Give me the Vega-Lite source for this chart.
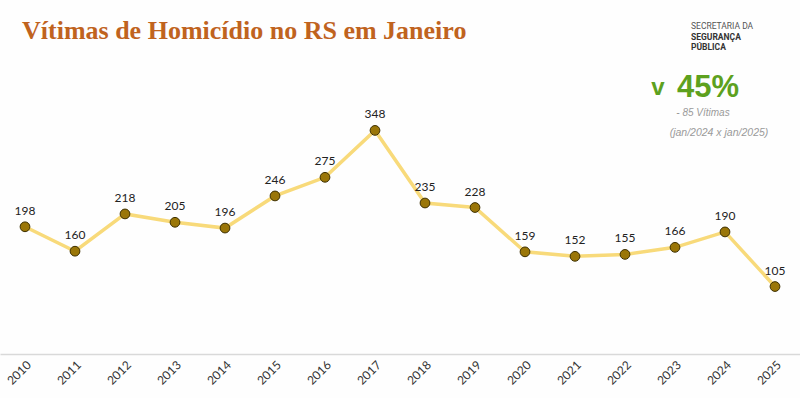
{
  "$schema": "https://vega.github.io/schema/vega-lite/v6.json",
  "width": 800,
  "height": 257,
  "autosize": {"type": "none"},
  "padding": {"left": 0, "top": 97, "right": 0, "bottom": 44},
  "background": "#fefefe",
  "config": {"view": {"stroke": null}},
  "datasets": {
    "serie": [
      {"ano": "2010", "vitimas": 198},
      {"ano": "2011", "vitimas": 160},
      {"ano": "2012", "vitimas": 218},
      {"ano": "2013", "vitimas": 205},
      {"ano": "2014", "vitimas": 196},
      {"ano": "2015", "vitimas": 246},
      {"ano": "2016", "vitimas": 275},
      {"ano": "2017", "vitimas": 348},
      {"ano": "2018", "vitimas": 235},
      {"ano": "2019", "vitimas": 228},
      {"ano": "2020", "vitimas": 159},
      {"ano": "2021", "vitimas": 152},
      {"ano": "2022", "vitimas": 155},
      {"ano": "2023", "vitimas": 166},
      {"ano": "2024", "vitimas": 190},
      {"ano": "2025", "vitimas": 105}
    ],
    "notas": [
      {"ano": "2010", "vitimas": 490, "txt": "Vítimas de Homicídio no RS em Janeiro", "tipo": "titulo"},
      {"ano": "2023", "vitimas": 511, "txt": "SECRETARIA DA", "tipo": "org1"},
      {"ano": "2023", "vitimas": 494, "txt": "SEGURANÇA", "tipo": "org2"},
      {"ano": "2023", "vitimas": 478, "txt": "PÚBLICA", "tipo": "org2"},
      {"ano": "2023", "vitimas": 414, "txt": "v", "tipo": "seta"},
      {"ano": "2024", "vitimas": 414, "txt": "45%", "tipo": "pct"},
      {"ano": "2024", "vitimas": 375, "txt": "- 85 Vítimas", "tipo": "sub"},
      {"ano": "2024", "vitimas": 344, "txt": "(jan/2024 x jan/2025)", "tipo": "sub2"}
    ]
  },
  "encoding": {
    "x": {
      "field": "ano",
      "type": "ordinal",
      "scale": {"type": "point", "padding": 0.5},
      "axis": {
        "title": null,
        "labelAngle": -45,
        "ticks": false,
        "grid": false,
        "domainColor": "#d9d9d9",
        "domainWidth": 1.5,
        "labelFont": "Lato",
        "labelFontSize": 12,
        "labelColor": "#333333",
        "labelPadding": 5
      }
    },
    "y": {
      "field": "vitimas",
      "type": "quantitative",
      "scale": {"domain": [0, 400]},
      "axis": null
    }
  },
  "layer": [
    {
      "data": {"name": "serie"},
      "mark": {"type": "line", "color": "#F8DA7A", "strokeWidth": 3.5}
    },
    {
      "data": {"name": "serie"},
      "mark": {"type": "point", "filled": true, "size": 95, "color": "#9A7608", "stroke": "#3d2f00", "strokeWidth": 1, "opacity": 1}
    },
    {
      "data": {"name": "serie"},
      "mark": {"type": "text", "baseline": "bottom", "dy": -9, "font": "Lato", "fontSize": 12, "color": "#222222"},
      "encoding": {"text": {"field": "vitimas", "type": "quantitative"}}
    },
    {
      "data": {"name": "notas"},
      "transform": [{"filter": "datum.tipo === 'titulo'"}],
      "mark": {"type": "text", "align": "left", "baseline": "alphabetic", "dx": -3, "font": "Liberation Serif", "fontSize": 26, "fontWeight": "bold", "color": "#C0631E"},
      "encoding": {"text": {"field": "txt"}}
    },
    {
      "data": {"name": "notas"},
      "transform": [{"filter": "datum.tipo === 'org1'"}],
      "mark": {"type": "text", "align": "left", "baseline": "middle", "dx": 16, "font": "Roboto", "fontSize": 8.5, "color": "#555555"},
      "encoding": {"text": {"field": "txt"}}
    },
    {
      "data": {"name": "notas"},
      "transform": [{"filter": "datum.tipo === 'org2'"}],
      "mark": {"type": "text", "align": "left", "baseline": "middle", "dx": 16, "font": "Roboto", "fontSize": 8.5, "fontWeight": "bold", "color": "#333333"},
      "encoding": {"text": {"field": "txt"}}
    },
    {
      "data": {"name": "notas"},
      "transform": [{"filter": "datum.tipo === 'seta'"}],
      "mark": {"type": "text", "align": "center", "baseline": "middle", "dx": -17, "font": "Liberation Sans", "fontSize": 24, "fontWeight": "bold", "color": "#5DA11E"},
      "encoding": {"text": {"field": "txt"}}
    },
    {
      "data": {"name": "notas"},
      "transform": [{"filter": "datum.tipo === 'pct'"}],
      "mark": {"type": "text", "align": "center", "baseline": "middle", "dx": -17, "font": "Liberation Sans", "fontSize": 31, "fontWeight": "bold", "color": "#5DA11E"},
      "encoding": {"text": {"field": "txt"}}
    },
    {
      "data": {"name": "notas"},
      "transform": [{"filter": "datum.tipo === 'sub'"}],
      "mark": {"type": "text", "align": "center", "baseline": "middle", "dx": -22, "font": "Liberation Sans", "fontSize": 10, "fontStyle": "italic", "color": "#9a9a9a"},
      "encoding": {"text": {"field": "txt"}}
    },
    {
      "data": {"name": "notas"},
      "transform": [{"filter": "datum.tipo === 'sub2'"}],
      "mark": {"type": "text", "align": "center", "baseline": "middle", "dx": -6, "font": "Liberation Sans", "fontSize": 10.5, "fontStyle": "italic", "color": "#9a9a9a"},
      "encoding": {"text": {"field": "txt"}}
    }
  ]
}
